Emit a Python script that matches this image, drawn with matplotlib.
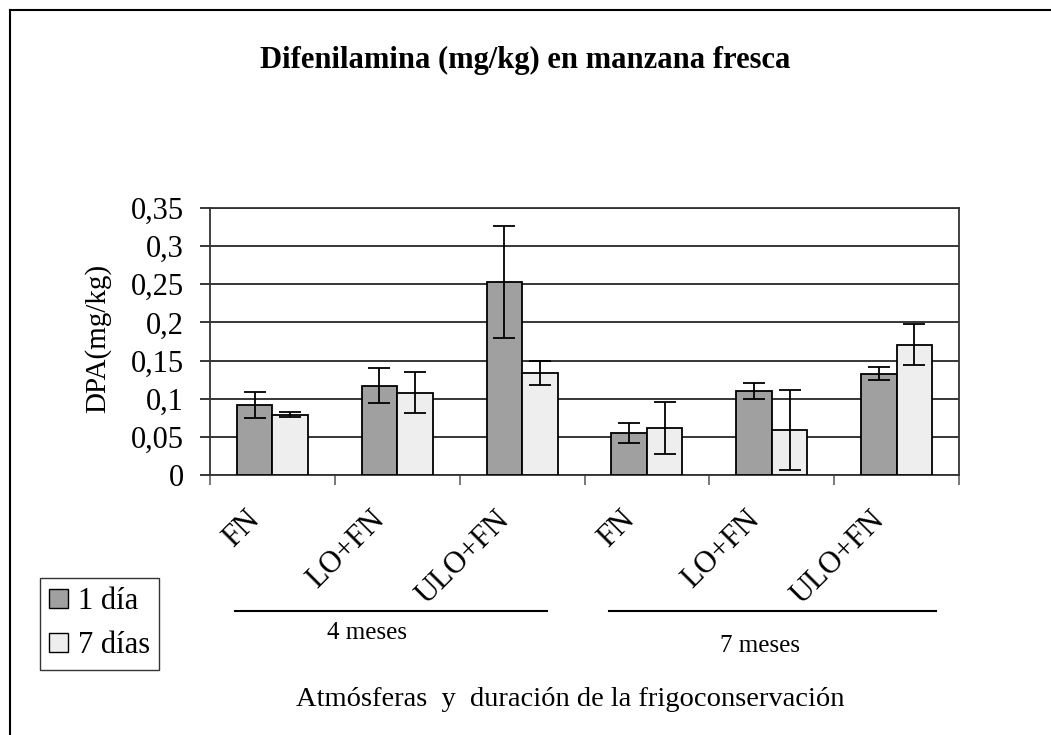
import numpy as np
import matplotlib
matplotlib.use("Agg")
import matplotlib.pyplot as plt
from matplotlib.lines import Line2D
from matplotlib.patches import Patch

# data
categories = ['FN', 'LO+FN', 'ULO+FN', 'FN', 'LO+FN', 'ULO+FN']
groups = ['4 meses', '7 meses']
dia1 = [0.092, 0.117, 0.253, 0.055, 0.110, 0.133]
dia1_err = [0.017, 0.023, 0.073, 0.013, 0.011, 0.008]
dia7 = [0.079, 0.108, 0.134, 0.062, 0.059, 0.171]
dia7_err = [0.0035, 0.027, 0.0155, 0.034, 0.053, 0.027]
yticks = [0, 0.05, 0.1, 0.15, 0.2, 0.25, 0.3, 0.35]
ytick_labels = ['0', '0,05', '0,1', '0,15', '0,2', '0,25', '0,3', '0,35']

plt.rcParams['font.family'] = ['Liberation Serif', 'DejaVu Serif']

W, H = 1051, 735
fig = plt.figure(figsize=(W / 100, H / 100), dpi=100)
ax = fig.add_axes([210 / W, 1 - 475 / H, 749 / W, 267 / H])

x = np.arange(len(categories))
w = 0.285
ax.bar(x - w / 2, dia1, w, color='#a0a0a0', edgecolor='black', linewidth=1.3, zorder=3)
ax.bar(x + w / 2, dia7, w, color='#eeeeee', edgecolor='black', linewidth=1.3, zorder=3)
ax.errorbar(x - w / 2, dia1, yerr=dia1_err, fmt='none', ecolor='black',
            elinewidth=1.3, capsize=8, capthick=1.3, zorder=4)
ax.errorbar(x + w / 2, dia7, yerr=dia7_err, fmt='none', ecolor='black',
            elinewidth=1.3, capsize=8, capthick=1.3, zorder=4)

ax.set_xlim(-0.5, len(categories) - 0.5)
ax.set_ylim(0, 0.35)
ax.set_yticks(yticks)
ax.set_yticklabels(ytick_labels, fontsize=22)
ax.yaxis.grid(True, color='black', linewidth=1.1, zorder=0)
ax.set_axisbelow(True)
ax.tick_params(axis='y', length=7, width=1.1, direction='out', pad=12)

# category boundary ticks on the x axis
ax.set_xticks(np.arange(len(categories) + 1) - 0.5)
ax.set_xticklabels([])
ax.tick_params(axis='x', length=7, width=1.1, direction='out', color='#555555')
for i, lab in enumerate(categories):
    ax.annotate(lab, xy=(i, 0), xycoords=('data', 'axes fraction'),
                xytext=(-12, -29), textcoords='offset points',
                rotation=45, rotation_mode='anchor', ha='right', va='center',
                fontsize=22)

for s in ax.spines.values():
    s.set_linewidth(1.3)
    s.set_color('#333333')

fig.text(98 / W, 1 - 413 / H, 'DPA(mg/kg)', rotation=90, ha='center', va='bottom',
         fontsize=21)

# group lines and labels under the axis
fig.add_artist(Line2D([235 / W, 547 / W], [1 - 611 / H] * 2, color='black', lw=1.5))
fig.add_artist(Line2D([609 / W, 936 / W], [1 - 611 / H] * 2, color='black', lw=1.5))
fig.text(367 / W, 1 - 633 / H, groups[0], ha='center', va='center', fontsize=18)
fig.text(760 / W, 1 - 646 / H, groups[1], ha='center', va='center', fontsize=18)

fig.text(570 / W, 1 - 700 / H, 'Atmósferas  y  duración de la frigoconservación',
         ha='center', va='center', fontsize=20.5)
fig.text(525 / W, 1 - 60 / H, 'Difenilamina (mg/kg) en manzana fresca',
         ha='center', va='center', fontsize=22, fontweight='bold')

handles = [Patch(facecolor='#a0a0a0', edgecolor='black', label='1 día'),
           Patch(facecolor='#eeeeee', edgecolor='black', label='7 días')]
leg = fig.legend(handles=handles, loc='upper left',
                 bbox_to_anchor=(40 / W, 1 - 578 / H), fontsize=22,
                 frameon=True, fancybox=False, edgecolor='black',
                 handlelength=0.6, handleheight=0.6, handletextpad=0.35,
                 borderpad=0.3, labelspacing=0.5, borderaxespad=0)
leg.get_frame().set_linewidth(1.0)

# outer chart frame (only left and top visible)
fig.add_artist(Line2D([10 / W, 10 / W], [0, 1 - 10 / H], color='black', lw=1.5))
fig.add_artist(Line2D([10 / W, 1], [1 - 10 / H] * 2, color='black', lw=1.5))

fig.savefig('out.png', dpi=100)
